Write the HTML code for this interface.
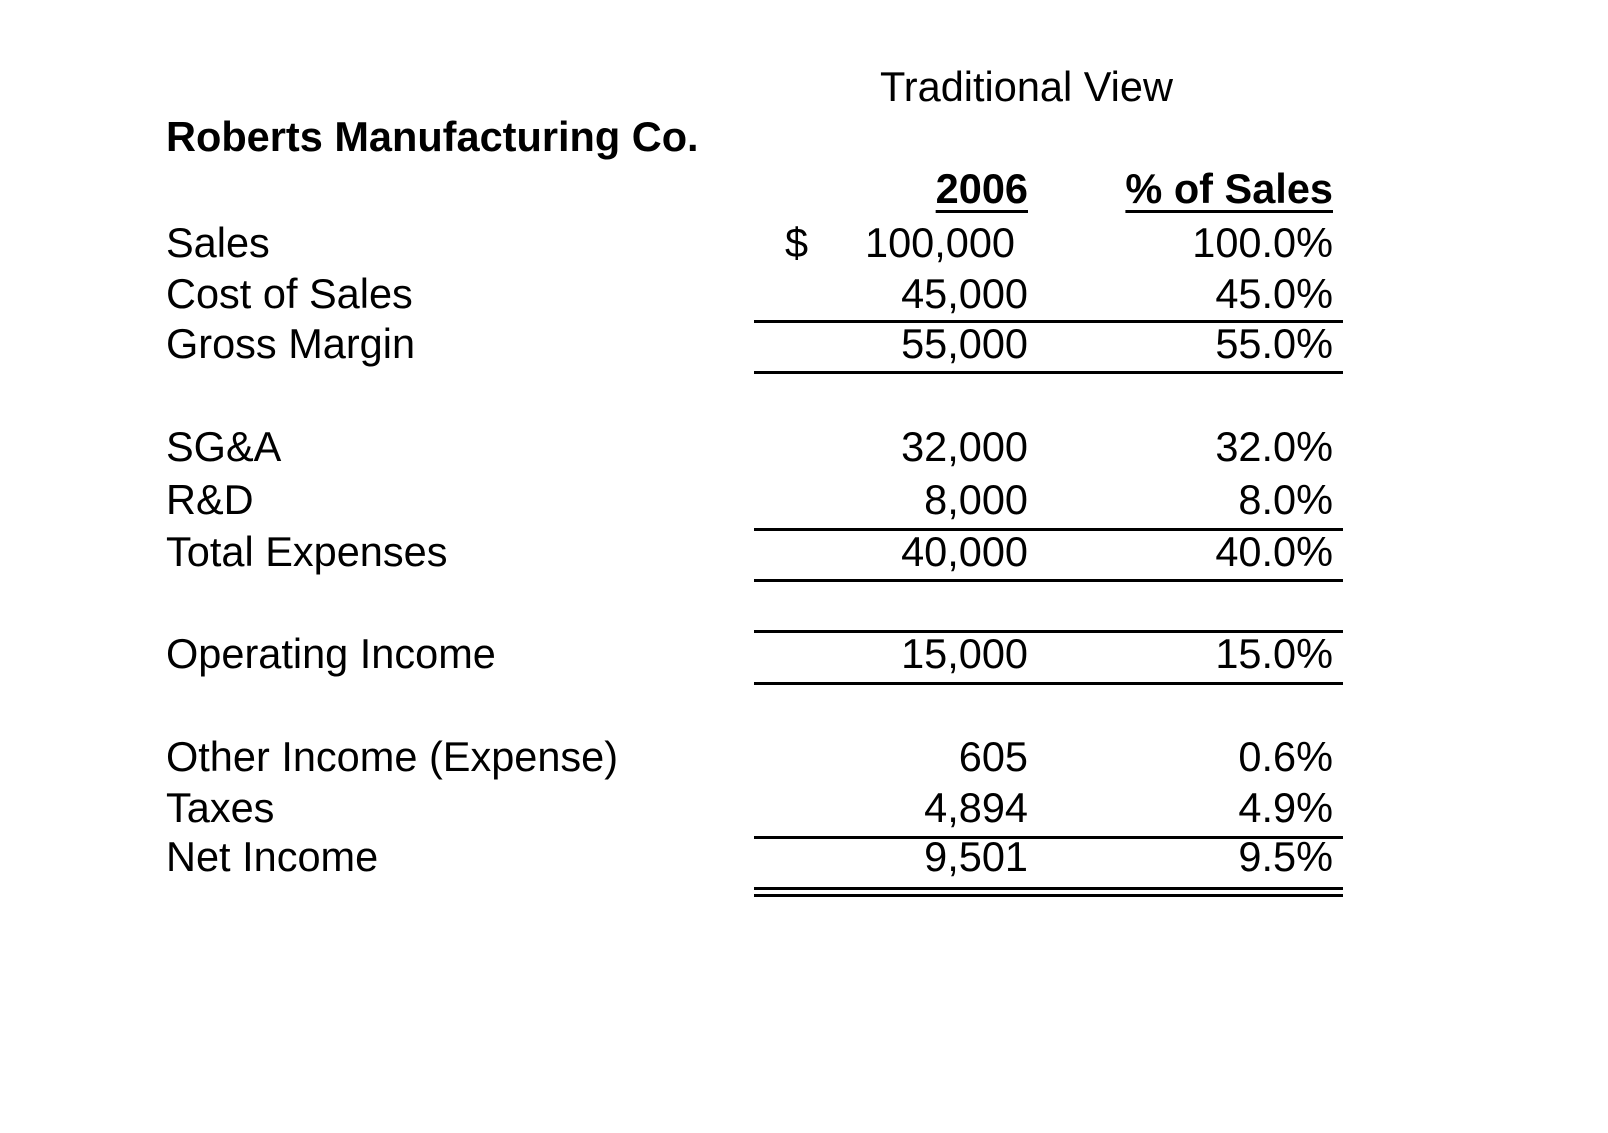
<!DOCTYPE html>
<html><head><meta charset="utf-8"><style>
body{margin:0;width:1608px;height:1133px;background:#fff;position:relative;overflow:hidden;font-family:"Liberation Sans",Arial,sans-serif;color:#000}
.t{position:absolute;font-size:41.5px;line-height:1;white-space:nowrap}
.l{left:166px}
.n{right:580px;text-align:right}
.p{right:275px;text-align:right}
.rule{position:absolute;left:754px;width:589px;height:3px;background:#000}
</style></head><body>
<div class="t" style="left:880px;top:66px;font-size:41.5px">Traditional View</div>
<div class="t" style="left:166px;top:116px;font-size:41.5px;font-weight:bold">Roberts Manufacturing Co.</div>
<div class="t" style="right:580px;top:168px;font-weight:bold;text-decoration:underline;text-decoration-thickness:3px;text-underline-offset:7px">2006</div>
<div class="t" style="right:275px;top:168px;font-weight:bold;text-decoration:underline;text-decoration-thickness:3px;text-underline-offset:7px">% of Sales</div>
<div class="t" style="left:785px;top:222px">$</div>
<div id="rows"></div>
<script>
const labels=["Sales","Cost of Sales","Gross Margin","SG&A","R&D","Total Expenses","Operating Income","Other Income (Expense)","Taxes","Net Income"];
const amounts=["100,000","45,000","55,000","32,000","8,000","40,000","15,000","605","4,894","9,501"];
const percents=["100.0%","45.0%","55.0%","32.0%","8.0%","40.0%","15.0%","0.6%","4.9%","9.5%"];
const tops=[227,278,328,431,484,536,638,741,792,841];
const rules=[321,372,529,580,631,683,837,888,895];
const root=document.getElementById('rows');
for(let i=0;i<labels.length;i++){
  const a=document.createElement('div');a.className='t l';a.style.top=(tops[i]-5)+'px';a.textContent=labels[i];
  
  
  root.appendChild(a);
  const b=document.createElement('div');b.className='t n';b.style.top=(tops[i]-5)+'px';b.textContent=amounts[i];
  if(i===0)b.style.right='593px';
  
  
  root.appendChild(b);
  const c=document.createElement('div');c.className='t p';c.style.top=(tops[i]-5)+'px';c.textContent=percents[i];
  
  
  root.appendChild(c);
}
for(const y of rules){
  const r=document.createElement('div');r.className='rule';r.style.top=(y-1)+'px';
  
  
  root.appendChild(r);
}
</script>
</body></html>
